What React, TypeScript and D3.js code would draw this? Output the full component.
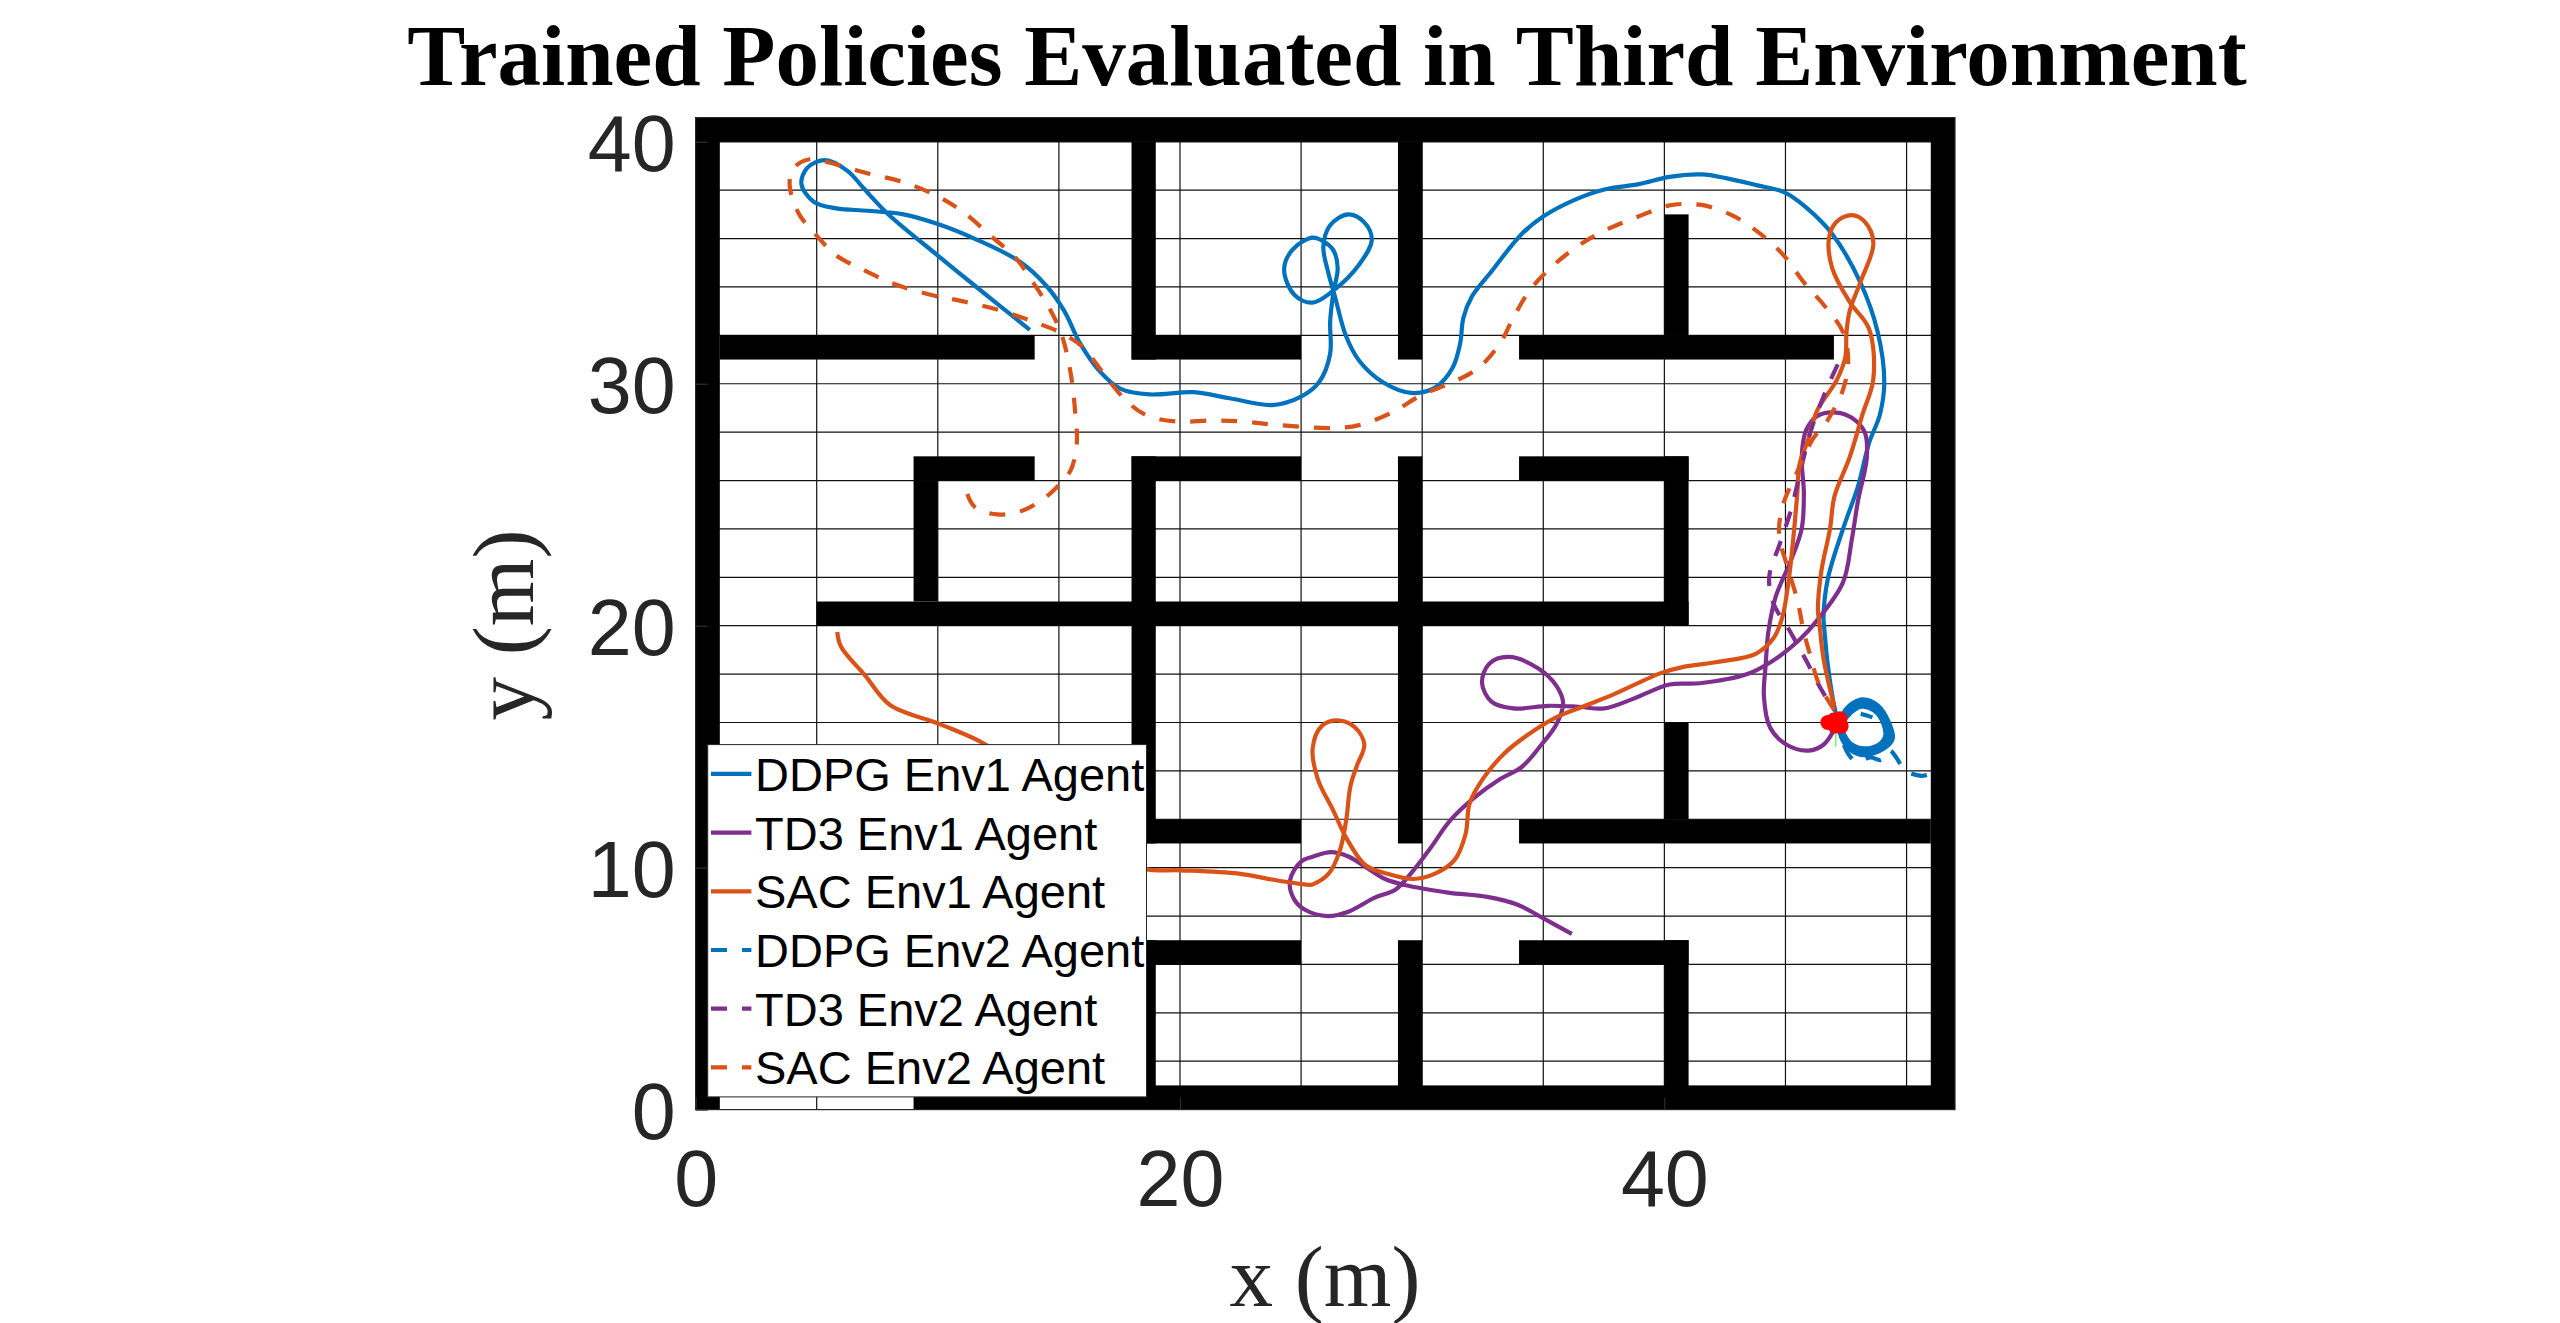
import React, { useEffect, useRef } from 'react';
import * as d3 from 'd3';

type Pt = [number, number];

const xGridTicks = [5, 10, 15, 20, 25, 30, 35, 40, 45, 50];
const yGridTicks = [2, 4, 6, 8, 10, 12, 14, 16, 18, 20, 22, 24, 26, 28, 30, 32, 34, 36, 38, 40];
const xTickLabels = [0, 20, 40];
const yTickLabels = [0, 10, 20, 30, 40];

// x0, x1, y0, y1 of each wall in metres
const walls = [
  [0, 52, 40, 41], [0, 1, 0, 41], [51, 52, 0, 41], [9, 52, 0, 1],
  [1, 14, 31, 32], [18, 25, 31, 32], [18, 19, 31, 40], [29, 30, 31, 40],
  [34, 47, 31, 32], [40, 41, 32, 37],
  [9, 14, 26, 27], [9, 10, 21, 26], [5, 41, 20, 21],
  [18, 25, 26, 27], [18, 19, 11, 27], [29, 30, 11, 27],
  [34, 41, 26, 27], [40, 41, 20, 27],
  [18, 25, 11, 12], [40, 41, 12, 16], [34, 51, 11, 12],
  [18, 25, 6, 7], [18, 19, 0, 7], [29, 30, 0, 7],
  [34, 41, 6, 7], [40, 41, 0, 7],
];

const ddpgEnv1: Pt[] = [
  [13.8, 32.23], [11.53, 34.05], [10, 35.3], [7.93, 37.03], [6.92, 38.1], [6.27, 38.8], [5.35, 39.24], [4.61, 38.92],
  [4.37, 38.25], [4.89, 37.51], [5.81, 37.25], [7.1, 37.15], [8.58, 37], [10, 36.6], [11.53, 35.99], [13.38, 35.05],
  [14.48, 34.05], [15.22, 33.01], [15.87, 31.68], [16.7, 30.5], [17.53, 29.8], [18.73, 29.56], [20.57, 29.65],
  [22.05, 29.4], [23.8, 29.12], [25, 29.47], [25.74, 30.06], [26.2, 31.24], [26.2, 32.57], [26.33, 33.75], [26.51, 34.78],
  [26.33, 35.52], [25.92, 35.89], [25.46, 36.04], [24.63, 35.52], [24.3, 34.71], [24.72, 33.68], [25.46, 33.35],
  [26.29, 33.82], [27.4, 34.93], [27.92, 35.96], [27.58, 36.7], [26.94, 37], [26.2, 36.55], [25.92, 35.67], [26.11, 34.64],
  [26.38, 33.68], [26.85, 31.98], [27.4, 30.95], [28.38, 30.06], [29.55, 29.62], [30.53, 29.84], [31.25, 30.65],
  [31.57, 31.68], [31.7, 32.72], [32.05, 33.6], [32.86, 34.64], [34.11, 36.19], [35.01, 36.92], [36.27, 37.59],
  [37.52, 38.03], [38.95, 38.25], [40.21, 38.55], [41.55, 38.65], [42.54, 38.5], [43.79, 38.21], [44.96, 37.91],
  [45.85, 37.29], [46.93, 36.19], [48.09, 34.19], [48.81, 32.13], [49.08, 30.06], [48.9, 28.73], [48.45, 27.55],
  [48, 25.78], [47.38, 24.01], [46.75, 21.94], [46.57, 20.32], [46.6, 19.92], [46.75, 18.36], [47.02, 16.65],
  [47.25, 15.83], [47.46, 16.51], [48.1, 16.95], [48.8, 16.72], [49.29, 15.96], [49.43, 15.34], [49.08, 14.93],
  [48.24, 14.65], [47.6, 14.93], [47.25, 15.55],
  [47.28, 15.86], [47.51, 16.47], [48.1, 16.87], [48.77, 16.65], [49.22, 15.96], [49.33, 15.38], [49.01, 14.96],
  [48.24, 14.72], [47.6, 14.97], [47.28, 15.55],
  [47.32, 15.89], [47.56, 16.44], [48.1, 16.79], [48.73, 16.58],
  [49.15, 15.96], [49.22, 15.41], [48.94, 15], [48.24, 14.79], [47.6, 15.02], [47.32, 15.55],
  [47.34, 15.92], [47.6, 16.4], [48.11, 16.72], [48.7, 16.53], [49.1, 15.95], [49.17, 15.41], [48.88, 15.03],
  [48.24, 14.86], [47.64, 15.08], [47.34, 15.58],
  [47.37, 15.96], [47.65, 16.35], [48.13, 16.65], [48.66, 16.49], [49.05, 15.93], [49.11, 15.41], [48.83, 15.07], [48.24, 14.93],
  [47.68, 15.14], [47.37, 15.62],
];

const td3Env1: Pt[] = [
  [36.18, 7.26], [35.01, 7.9], [33.94, 8.47], [32.68, 8.79], [31.07, 8.97], [29.28, 9.28], [28.47, 9.53], [27.66, 10.03],
  [26.95, 10.46], [26.23, 10.64], [25.51, 10.46], [25, 10.25], [24.54, 9.46], [24.72, 8.68], [25.18, 8.25], [26.11, 8],
  [26.95, 8.18], [28.02, 8.75], [28.92, 9.11], [29.64, 9.89], [30.35, 10.82], [31.16, 11.95], [32.14, 12.88], [33.22, 13.66],
  [34.11, 14.16], [34.92, 15.08], [35.55, 15.94], [35.82, 16.79], [35.55, 17.5], [34.83, 18.21], [33.58, 18.71],
  [32.77, 18.43], [32.47, 17.65], [32.86, 16.86], [33.76, 16.58], [35.19, 16.69], [36.44, 16.65], [37.52, 16.58],
  [38.77, 17], [40.21, 17.57], [41.46, 17.62], [43.43, 18], [44.51, 18.57], [45.58, 19.42], [46.3, 20.21], [47.38, 21.8],
  [47.74, 23.57], [48, 25.19], [48.36, 26.96], [48.27, 28], [47.74, 28.59], [47.11, 28.81], [46.3, 28.66], [45.85, 28.07],
  [45.67, 26.96], [45.76, 25.49], [45.67, 24.01], [45.22, 22.68], [44.6, 21.21], [44.29, 19.73], [44.24, 19.21],
  [44.18, 18.36], [44.11, 17.08], [44.36, 15.8], [45.05, 15.08], [45.94, 14.84], [46.57, 15.08], [47.02, 15.72],
];

const sacEnv1: Pt[] = [
  [5.85, 19.74], [6, 19.14], [7.01, 17.93], [8.03, 16.72], [9.87, 16.01], [10.61, 15.72], [11.9, 15.13], [15, 13], [17, 10.5],
  [18.64, 9.93], [20.02, 9.89], [22.42, 9.75], [24.08, 9.46], [25.37, 9.29], [25.51, 9.32], [26.14, 9.75], [26.59, 10.67],
  [26.86, 11.95], [27.04, 13.38], [27.31, 14.23], [27.61, 15.08], [27.22, 15.8], [26.59, 16.08], [25.87, 15.87], [25.48, 14.94],
  [25.69, 13.66], [26.32, 12.38], [26.86, 11.24], [27.66, 10.1], [28.56, 9.75], [29.64, 9.53], [30.53, 9.75], [31.34, 10.32],
  [31.79, 11.38], [31.96, 12.66], [32.5, 13.66], [33.4, 14.73], [34.29, 15.44], [35.55, 16.22], [36.62, 16.65], [37.88, 17.15],
  [39.85, 18.04], [40.75, 18.29], [42.18, 18.5], [43.79, 18.85], [44.51, 19.49], [44.87, 20.35], [45.14, 21.94], [45.32, 23.57],
  [45.49, 25.49], [45.58, 26.67], [45.94, 27.7], [46.3, 28.88], [47.11, 30.14], [47.47, 31.09], [47.52, 32.13], [47.65, 33.01],
  [48.09, 34.19], [48.63, 35.82], [48.27, 36.7], [47.74, 36.97], [47.11, 36.7], [46.8, 36.04], [46.93, 34.78], [47.65, 33.38],
  [48.45, 32.27], [48.63, 30.21], [48.18, 28.73], [47.65, 26.96], [47.02, 25.34], [46.84, 24.01], [46.48, 22.24], [46.34, 20.62],
  [46.39, 20.21], [46.57, 18.64], [47.02, 16.65],
];

const ddpgEnv2: Pt[] = [
  [50.84, 13.83], [50.56, 13.8], [49.93, 14.03], [49.57, 14.56], [49.29, 14.86], [48.94, 14.45], [48.52, 14.56], [47.96, 14.38],
  [47.68, 14.58], [47.39, 15.13], [47.25, 15.75], [47.46, 16.2], [47.96, 16.37], [48.59, 16.21],
];

const td3Env2: Pt[] = [
  [47.16, 30.8], [46.66, 29.69], [46.03, 28], [45.58, 26.22], [45.22, 24.75], [44.78, 23.42], [44.33, 22.02], [44.51, 20.91],
  [45.14, 19.85], [45.85, 18.57], [46.48, 17.36], [47.02, 16.51],
];

const sacEnv2: Pt[] = [
  [11.22, 25.44], [11.53, 24.9], [12.45, 24.6], [13.56, 24.78], [14.58, 25.41], [15.04, 25.86], [15.5, 26.45], [15.74, 27.55],
  [15.68, 28.73], [15.5, 30.36], [15.13, 31.98], [14.67, 33.01], [13.93, 34.19], [13.19, 35.23], [12.27, 36.04], [10.98, 37.15],
  [9.87, 37.81], [8.49, 38.36], [7.2, 38.67], [5.81, 39.06], [4.71, 39.28], [4.06, 38.92], [3.88, 38.25], [4.24, 37.07],
  [5.07, 36.04], [5.81, 35.3], [6.92, 34.71], [8.21, 34.12], [9.69, 33.68], [11.16, 33.38], [12.64, 33.01], [13.93, 32.57],
  [15.04, 32.13], [15.96, 31.54], [16.79, 30.5], [17.62, 29.47], [18.54, 28.73], [19.83, 28.44], [21.31, 28.48], [22.6, 28.44],
  [24.08, 28.29], [26.29, 28.17], [27.4, 28.29], [28.74, 28.81], [29.99, 29.54], [31.25, 30.06], [32.32, 30.65], [33.22, 31.68],
  [33.76, 32.72], [34.47, 33.9], [35.55, 35.01], [36.62, 35.82], [37.7, 36.41], [38.95, 36.92], [40.21, 37.37], [41.46, 37.4],
  [42.72, 37], [43.79, 36.33], [44.87, 35.37], [45.76, 34.19], [46.66, 33.16], [47.38, 32.13], [47.59, 30.95], [47.38, 29.77],
  [46.75, 28.51], [46.12, 27.7], [45.49, 26.37], [44.87, 24.9], [44.74, 23.72], [45.05, 22.53], [45.49, 21.06], [45.76, 19.73],
  [45.98, 18.93], [46.39, 17.57], [47.02, 16.51],
];

const goalMarks: Pt[] = [[46.75, 16], [47, 16.1], [47.25, 16.15], [47.3, 15.85], [47.05, 15.85]];
const greenTrace: Pt[] = [[47.08, 15.9], [47.08, 15]];

const blue = '#0072BD';
const purple = '#7E2F8E';
const orange = '#D95319';

const series = [
  { name: 'DDPG Env1 Agent', values: ddpgEnv1, color: blue, dashed: false },
  { name: 'TD3 Env1 Agent', values: td3Env1, color: purple, dashed: false },
  { name: 'SAC Env1 Agent', values: sacEnv1, color: orange, dashed: false },
  { name: 'DDPG Env2 Agent', values: ddpgEnv2, color: blue, dashed: true },
  { name: 'TD3 Env2 Agent', values: td3Env2, color: purple, dashed: true },
  { name: 'SAC Env2 Agent', values: sacEnv2, color: orange, dashed: true },
];

const App = () => {
  const ref = useRef<SVGSVGElement>(null);

  useEffect(() => {
    const svg = d3.select(ref.current);
    svg.selectAll('*').remove();

    const x = d3.scaleLinear().domain([0, 52]).range([695.6, 1955]);
    const y = d3.scaleLinear().domain([0, 41]).range([1109.6, 117.6]);
    const sans = '"Liberation Sans", Arial, sans-serif';
    const serif = '"Liberation Serif", "Times New Roman", serif';
    const dash = '16 15';

    // grid under the walls
    const grid = svg.append('g').attr('stroke', '#111').attr('stroke-width', 1.2);
    grid.selectAll('.gx').data(xGridTicks).enter().append('line')
      .attr('x1', d => x(d)).attr('x2', d => x(d)).attr('y1', y(0)).attr('y2', y(41));
    grid.selectAll('.gy').data(yGridTicks).enter().append('line')
      .attr('x1', x(0)).attr('x2', x(52)).attr('y1', d => y(d)).attr('y2', d => y(d));

    svg.append('g').selectAll('rect').data(walls).enter().append('rect')
      .attr('x', d => x(d[0]))
      .attr('width', d => x(d[1]) - x(d[0]))
      .attr('y', d => y(d[3]))
      .attr('height', d => y(d[2]) - y(d[3]))
      .attr('fill', '#000');

    const line = d3.line<Pt>()
      .x(d => x(d[0]))
      .y(d => y(d[1]))
      .curve(d3.curveCatmullRom.alpha(0.5));

    svg.append('g').selectAll('path').data(series).enter().append('path')
      .attr('d', d => line(d.values))
      .attr('fill', 'none')
      .attr('stroke', d => d.color)
      .attr('stroke-width', 4.2)
      .attr('stroke-dasharray', d => (d.dashed ? dash : null));

    svg.append('path')
      .attr('d', d3.line<Pt>().x(d => x(d[0])).y(d => y(d[1]))(greenTrace))
      .attr('stroke', '#66e05a').attr('stroke-width', 1.2).attr('fill', 'none');

    svg.append('g').selectAll('circle').data(goalMarks).enter().append('circle')
      .attr('cx', d => x(d[0])).attr('cy', d => y(d[1])).attr('r', 7.5).attr('fill', '#FF0000');

    // legend sits over everything else
    const legend = svg.append('g');
    legend.append('rect')
      .attr('x', 707.7).attr('y', 744.6).attr('width', 438.8).attr('height', 352.3)
      .attr('fill', '#fff').attr('stroke', '#262626').attr('stroke-width', 1);
    series.forEach((s, i) => {
      const cy = 773.9 + i * 58.7;
      legend.append('line')
        .attr('x1', 711).attr('x2', 751.4).attr('y1', cy).attr('y2', cy)
        .attr('stroke', s.color).attr('stroke-width', 4.2)
        .attr('stroke-dasharray', s.dashed ? dash : null);
      legend.append('text')
        .attr('x', 755).attr('y', cy + 17)
        .attr('font-family', sans).attr('font-size', 47).attr('fill', '#000')
        .text(s.name);
    });

    // axes box and ticks on top
    svg.append('rect')
      .attr('x', x(0)).attr('y', y(41)).attr('width', x(52) - x(0)).attr('height', y(0) - y(41))
      .attr('fill', 'none').attr('stroke', '#262626').attr('stroke-width', 1.2);

    const xAxis = svg.append('g')
      .attr('transform', `translate(0,${y(0)})`)
      .call(d3.axisBottom(x).tickValues(xTickLabels).tickSize(-12).tickPadding(40).tickFormat(d3.format('d')));
    const yAxis = svg.append('g')
      .attr('transform', `translate(${x(0)},0)`)
      .call(d3.axisLeft(y).tickValues(yTickLabels).tickSize(-12).tickPadding(20).tickFormat(d3.format('d')));
    [xAxis, yAxis].forEach(a => {
      a.select('.domain').remove();
      a.selectAll('line').attr('stroke', '#303030').attr('stroke-width', 1.2);
      a.selectAll('text')
        .attr('font-family', sans).attr('font-size', 79).attr('fill', '#262626');
    });
    yAxis.selectAll('text').attr('dy', '0.36em');

    svg.append('text')
      .attr('x', 1327).attr('y', 85)
      .attr('text-anchor', 'middle')
      .attr('font-family', serif).attr('font-weight', 'bold').attr('font-size', 87).attr('fill', '#000')
      .text('Trained Policies Evaluated in Third Environment');

    svg.append('text')
      .attr('x', 1325).attr('y', 1306)
      .attr('text-anchor', 'middle')
      .attr('font-family', serif).attr('font-size', 87).attr('fill', '#262626')
      .text('x (m)');

    svg.append('text')
      .attr('transform', `translate(533,625) rotate(-90)`)
      .attr('text-anchor', 'middle')
      .attr('font-family', serif).attr('font-size', 87).attr('fill', '#262626')
      .text('y (m)');
  }, []);

  return (
    <svg
      ref={ref}
      width={2560}
      height={1323}
      style={{ position: 'absolute', left: 0, top: 0, background: '#fff' }}
    />
  );
};

export default App;
